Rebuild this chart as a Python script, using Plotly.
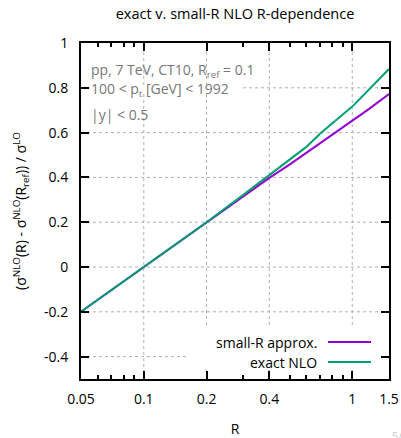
import math
import plotly.graph_objects as go

# ---- data ----
R_small = [0.05, 0.07, 0.1, 0.15, 0.2, 0.3, 0.4, 0.5, 0.6, 0.7, 0.8, 0.9, 1.0, 1.2, 1.5]
dsig_small = [-0.200, -0.103, 0.000, 0.116, 0.198, 0.318, 0.398, 0.457, 0.508, 0.552,
              0.590, 0.623, 0.653, 0.705, 0.772]

R_exact = [0.05, 0.07, 0.1, 0.15, 0.2, 0.3, 0.4, 0.5, 0.6, 0.7, 0.8, 0.9, 1.0, 1.5]
dsig_exact = [-0.200, -0.103, 0.000, 0.117, 0.200, 0.322, 0.410, 0.476, 0.535, 0.595,
              0.643, 0.681, 0.716, 0.884]

x_tickvals = [0.05, 0.1, 0.2, 0.4, 1, 1.5]
x_ticktext = ["0.05", "0.1", "0.2", "0.4", "1", "1.5"]
x_minor = [0.06, 0.07, 0.08, 0.09, 0.3, 0.5, 0.6, 0.7, 0.8, 0.9]
y_tickvals = [-0.4, -0.2, 0, 0.2, 0.4, 0.6, 0.8, 1.0]
y_ticktext = ["-0.4", "-0.2", "0", "0.2", "0.4", "0.6", "0.8", "1"]

series_names = ["small-R approx.", "exact NLO"]
colors = ["#9400d3", "#009e73"]

FONT = "Open Sans"
W, H = 401, 438
ML, MR, MT, MB = 81, 12, 43, 59
PW, PH = W - ML - MR, H - MT - MB
X_RANGE = [0.05, 1.5]
Y_RANGE = [-0.5, 1.0]

def px_x(x):
    return (x - ML) / PW

def px_y(y):
    return (H - MB - y) / PH

fig = go.Figure()

# dotted grid at the major ticks, drawn through the axes' own scales
gx, gy = [], []
for xv in x_tickvals:
    if X_RANGE[0] < xv < X_RANGE[1]:
        gx += [xv, xv, None]
        gy += [Y_RANGE[0], Y_RANGE[1], None]
for yv in y_tickvals:
    if Y_RANGE[0] < yv < Y_RANGE[1]:
        gx += [X_RANGE[0], X_RANGE[1], None]
        gy += [yv, yv, None]
fig.add_trace(go.Scatter(x=gx, y=gy, mode="lines", hoverinfo="skip", showlegend=False,
                         line=dict(color="#b0b0b0", width=1, dash="dot")))

fig.add_trace(go.Scatter(x=R_small, y=dsig_small, mode="lines",
                         line=dict(color=colors[0], width=2), name=series_names[0],
                         showlegend=False))
fig.add_trace(go.Scatter(x=R_exact, y=dsig_exact, mode="lines",
                         line=dict(color=colors[1], width=2), name=series_names[1],
                         showlegend=False))

shapes = []
# opaque legend box (hides grid lines beneath, like the reference), kept clear of the ticks
shapes.append(dict(type="rect", xref="paper", yref="paper",
                   x0=px_x(187), x1=px_x(380), y0=px_y(370), y1=px_y(327),
                   fillcolor="white", line=dict(width=0), layer="above"))
# grid hidden behind the label text line
shapes.append(dict(type="rect", xref="paper", yref="paper",
                   x0=px_x(90), x1=px_x(241), y0=px_y(91), y1=px_y(85),
                   fillcolor="white", line=dict(width=0), layer="above"))

annotations = []
# manual legend (gnuplot style: text then sample on the right)
leg_y = [342, 362]
for name, col, yy in zip(series_names, colors, leg_y):
    annotations.append(dict(xref="paper", yref="paper", x=px_x(319), y=px_y(yy),
                            text=name, showarrow=False, xanchor="right", yanchor="middle",
                            font=dict(family=FONT, size=14, color="black")))
    shapes.append(dict(type="line", xref="paper", yref="paper",
                       x0=px_x(328), x1=px_x(371), y0=px_y(yy), y1=px_y(yy),
                       line=dict(color=col, width=2), layer="above"))

labels = ["pp, 7 TeV, CT10, R<sub>ref</sub> = 0.1",
          "100 &lt; p<sub>t</sub> [GeV] &lt; 1992",
          "|y| &lt; 0.5"]
label_y = [70, 90, 114]
for t, yy in zip(labels, label_y):
    annotations.append(dict(xref="paper", yref="paper", x=px_x(89), y=px_y(yy),
                            text=t, showarrow=False, xanchor="left", yanchor="middle",
                            font=dict(family=FONT, size=14, color="#777777")))

annotations.append(dict(xref="paper", yref="paper", x=px_x(390), y=px_y(435),
                        text="5/", showarrow=False, xanchor="left", yanchor="middle",
                        font=dict(family=FONT, size=11, color="#c8c8c8")))

fig.update_layout(
    width=W, height=H,
    margin=dict(l=ML, r=MR, t=MT, b=MB, pad=0, autoexpand=False),
    paper_bgcolor="white", plot_bgcolor="white",
    font=dict(family=FONT, size=14, color="black"),
    title=dict(text="exact v. small-R NLO R-dependence", x=px_x(235), xanchor="center",
               xref="paper", y=1 - 14 / H, yanchor="middle",
               font=dict(family=FONT, size=14.5, color="black")),
    shapes=shapes, annotations=annotations,
    showlegend=False,
)

fig.update_xaxes(
    type="log", range=[math.log10(X_RANGE[0]), math.log10(X_RANGE[1])],
    tickmode="array", tickvals=x_tickvals, ticktext=x_ticktext,
    ticks="inside", ticklen=8, tickwidth=1.5, tickcolor="black",
    showline=True, linewidth=2, linecolor="black", mirror="ticks",
    showgrid=False,
    minor=dict(tickmode="array", tickvals=x_minor, ticks="inside", ticklen=4,
               tickwidth=1.5, tickcolor="black", showgrid=False),
    ticklabelstandoff=6,
    title=dict(text="R", standoff=27, font=dict(family=FONT, size=14)),
    tickfont=dict(family=FONT, size=14, color="black"),
)
fig.update_yaxes(
    range=Y_RANGE,
    tickmode="array", tickvals=y_tickvals, ticktext=y_ticktext,
    ticks="inside", ticklen=8, tickwidth=1.5, tickcolor="black",
    showline=True, linewidth=2, linecolor="black", mirror="ticks",
    showgrid=False, zeroline=False,
    ticklabelstandoff=8,
    title=dict(text="(σ<sup>NLO</sup>(R) - σ<sup>NLO</sup>(R<sub>ref</sub>)) / σ<sup>LO</sup>",
               standoff=14, font=dict(family=FONT, size=14)),
    tickfont=dict(family=FONT, size=14, color="black"),
)

fig.write_html("out.html")
